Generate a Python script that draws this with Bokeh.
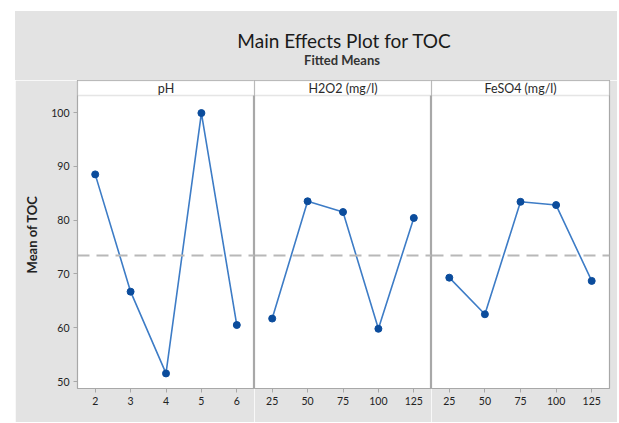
from bokeh.plotting import figure
from bokeh.layouts import row, column
from bokeh.models import (Range1d, FixedTicker, Span, BoxAnnotation, Label, Div)
from bokeh.embed import file_html
from bokeh.resources import INLINE

# ---- data ----
ph_levels = [2, 3, 4, 5, 6]
ph_means = [88.5, 66.7, 51.5, 99.9, 60.5]
h2o2_levels = [25, 50, 75, 100, 125]
h2o2_means = [61.7, 83.5, 81.5, 59.8, 80.4]
feso4_levels = [25, 50, 75, 100, 125]
feso4_means = [69.3, 62.5, 83.4, 82.8, 68.7]
y_ticks = [50, 60, 70, 80, 90, 100]
grand_mean = 73.4
panel_names = ["pH", "H2O2 (mg/l)", "FeSO4 (mg/l)"]

BG = "#e3e3e3"
FRAME = "#a8a8a8"
LINE = "#3d7cc6"
DOT = "#0b4c9c"
FONT = "Lato"

Y_LO, Y_DATA_TOP, Y_TOP = 48.7, 103.16, 105.95


def panel(name, levels, means, x_lo, x_hi, first, last, fw):
    p = figure(frame_width=fw, frame_height=308,
               x_range=Range1d(x_lo, x_hi), y_range=Range1d(Y_LO, Y_TOP),
               output_backend="svg", toolbar_location=None,
               min_border_left=62 if first else 0, min_border_right=8 if last else 0,
               min_border_top=0, min_border_bottom=34, margin=0)
    p.border_fill_color = BG
    p.background_fill_color = "white"
    p.outline_line_color = FRAME
    p.outline_line_width = 1.2
    p.xgrid.visible = False
    p.ygrid.visible = False

    # strip header
    p.add_layout(BoxAnnotation(bottom=Y_DATA_TOP, fill_color="white", fill_alpha=1,
                               line_color=FRAME, line_width=1.5))
    p.add_layout(Label(x=(x_lo + x_hi) / 2, y=(Y_DATA_TOP + Y_TOP) / 2, text=name,
                       text_align="center", text_baseline="middle",
                       text_font=FONT, text_font_size="12.5px", text_color="#2a2a2a"))

    p.add_layout(Span(location=grand_mean, dimension="width", line_color="#b8b8b8",
                      line_width=2, line_dash="12 7"))

    p.line(levels, means, line_color=LINE, line_width=1.6)
    p.scatter(levels, means, size=7, fill_color=DOT, line_color=DOT)

    for ax in (p.xaxis[0], p.yaxis[0]):
        ax.axis_line_color = FRAME
        ax.major_tick_line_color = FRAME
        ax.major_tick_out = 4
        ax.major_tick_in = 0
        ax.minor_tick_line_color = None
        ax.major_label_text_font = FONT
        ax.major_label_text_font_size = "10.5px"
        ax.major_label_text_color = "#222222"
        ax.major_label_standoff = 4
    p.xaxis.ticker = FixedTicker(ticks=levels)
    p.yaxis.ticker = FixedTicker(ticks=y_ticks)
    if first:
        p.yaxis.axis_label = "Mean of TOC"
        p.yaxis.axis_label_text_font = FONT
        p.yaxis.axis_label_text_font_size = "13px"
        p.yaxis.axis_label_text_font_style = "bold"
        p.yaxis.axis_label_text_color = "#222222"
        p.yaxis.axis_label_standoff = 8
    else:
        p.yaxis.visible = False
    return p


p1 = panel(panel_names[0], ph_levels, ph_means, 1.5, 6.5, True, False, 177)
p2 = panel(panel_names[1], h2o2_levels, h2o2_means, 12.5, 137.5, False, False, 177)
p3 = panel(panel_names[2], feso4_levels, feso4_means, 12.5, 137.5, False, True, 178)

title_html = (
    f'<div style="position:relative;width:602px;height:69px;background:{BG};font-family:{FONT};">'
    '<div style="position:absolute;left:329px;top:20px;transform:translateX(-50%);white-space:nowrap;'
    'font-size:19px;line-height:19px;color:#1a1a1a;">Main Effects Plot for TOC</div>'
    '<div style="position:absolute;left:327px;top:43px;transform:translateX(-50%);white-space:nowrap;'
    'font-size:13px;line-height:13px;font-weight:bold;color:#333333;">Fitted Means</div>'
    '</div>'
)
title = Div(text=title_html, width=602, height=69, margin=0,
            styles={"background-color": BG})

body = row(p1, p2, p3, spacing=0, margin=0)
page = column(title, body, spacing=0, margin=(11, 0, 0, 15))

open("out.html", "w").write(file_html(page, INLINE))
